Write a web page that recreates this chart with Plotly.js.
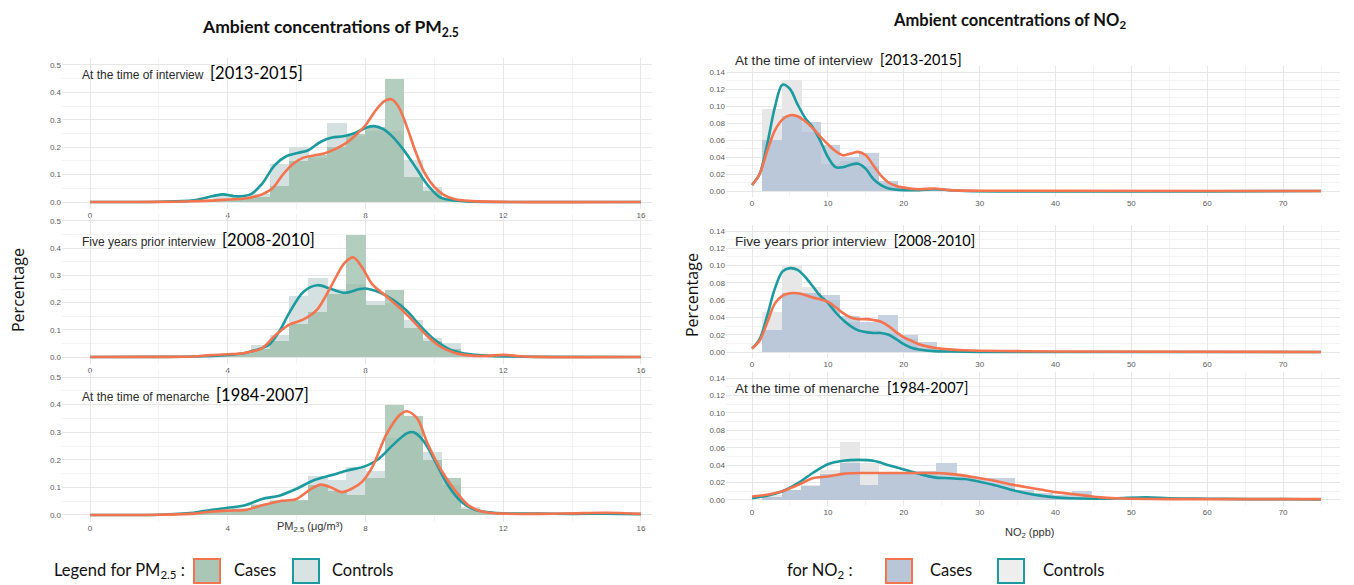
<!DOCTYPE html>
<html>
<head>
<meta charset="utf-8">
<script src="https://cdn.plot.ly/plotly-3.0.1.min.js"></script>
<style>html,body{margin:0;padding:0;background:#fff;}#chart{width:1354px;height:585px;}</style>
</head>
<body>
<div id="chart"></div>
<script>
// ---------------- DATA ----------------
// PM2.5 histogram bins (centres, µg/m3)
var pmBinCenters = [3.30, 3.86, 4.41, 4.96, 5.52, 6.07, 6.62, 7.18, 7.73, 8.28, 8.84, 9.39, 9.94, 10.50, 11.05, 11.60];
var pmBinWidth = 0.553;
var pmInterviewCasesHist    = [0, 0.01, 0.01, 0.02, 0.06, 0.15, 0.17, 0.20, 0.25, 0.275, 0.45, 0.09, 0.04, 0.01, 0, 0];
var pmInterviewControlsHist = [0, 0.03, 0.02, 0.03, 0.14, 0.20, 0.16, 0.29, 0.24, 0.26, 0.26, 0.155, 0.055, 0.01, 0, 0];
var pmFiveCasesHist         = [0, 0.005, 0.01, 0.03, 0.06, 0.12, 0.166, 0.23, 0.45, 0.19, 0.246, 0.105, 0.06, 0.03, 0.005, 0];
var pmFiveControlsHist      = [0, 0.005, 0.015, 0.045, 0.08, 0.224, 0.29, 0.25, 0.27, 0.205, 0.20, 0.135, 0.07, 0.05, 0.01, 0];
var pmMenarcheCasesHist     = [0.01, 0.015, 0.02, 0.035, 0.05, 0.055, 0.107, 0.087, 0.074, 0.135, 0.40, 0.36, 0.20, 0.134, 0.02, 0.008];
var pmMenarcheControlsHist  = [0.016, 0.02, 0.025, 0.04, 0.055, 0.05, 0.141, 0.126, 0.174, 0.16, 0.28, 0.30, 0.227, 0.11, 0.028, 0.01];

// PM2.5 density curves
var pmInterviewControlsX = [0, 2, 3, 3.58, 3.86, 4.19, 4.47, 4.69, 5.0, 5.36, 5.7, 6.03, 6.34, 6.7, 7.03, 7.36, 7.7, 8.03, 8.25, 8.53, 8.81, 9.15, 9.48, 9.81, 10.15, 10.48, 10.92, 12, 16];
var pmInterviewControlsY = [0, 0.001, 0.006, 0.022, 0.028, 0.021, 0.022, 0.03, 0.067, 0.134, 0.167, 0.179, 0.189, 0.22, 0.235, 0.24, 0.252, 0.272, 0.277, 0.265, 0.235, 0.183, 0.122, 0.061, 0.018, 0.007, 0.002, 0, 0];
var pmInterviewCasesX = [0, 2, 3, 3.5, 4, 4.5, 4.8, 5.0, 5.3, 5.6, 5.9, 6.2, 6.5, 6.8, 7.1, 7.4, 7.7, 8.0, 8.3, 8.55, 8.75, 8.95, 9.2, 9.45, 9.7, 10.0, 10.3, 10.6, 11, 12, 16];
var pmInterviewCasesY = [0, 0.0005, 0.003, 0.005, 0.009, 0.013, 0.02, 0.028, 0.05, 0.1, 0.14, 0.162, 0.17, 0.177, 0.192, 0.212, 0.242, 0.28, 0.335, 0.368, 0.375, 0.35, 0.275, 0.185, 0.11, 0.055, 0.024, 0.01, 0.004, 0.0005, 0];

var pmFiveControlsX = [0, 2, 3, 4, 4.5, 4.8, 5.2, 5.5, 5.8, 6.2, 6.6, 7.0, 7.4, 7.8, 8.0, 8.4, 8.8, 9.2, 9.6, 10.0, 10.4, 10.8, 11.2, 11.6, 12, 13, 16];
var pmFiveControlsY = [0, 0.0005, 0.002, 0.008, 0.015, 0.025, 0.045, 0.095, 0.165, 0.24, 0.264, 0.25, 0.236, 0.249, 0.252, 0.238, 0.21, 0.17, 0.113, 0.064, 0.031, 0.015, 0.008, 0.004, 0.002, 0.0005, 0];
var pmFiveCasesX = [0, 2, 3, 3.5, 4, 4.5, 5.0, 5.4, 5.8, 6.2, 6.6, 7.0, 7.4, 7.65, 7.9, 8.2, 8.6, 9.0, 9.4, 9.8, 10.2, 10.6, 11, 11.5, 12, 12.5, 13, 16];
var pmFiveCasesY = [0, 0.0005, 0.002, 0.007, 0.01, 0.015, 0.033, 0.082, 0.12, 0.138, 0.175, 0.26, 0.347, 0.366, 0.33, 0.267, 0.224, 0.18, 0.13, 0.076, 0.036, 0.015, 0.006, 0.004, 0.008, 0.003, 0.0005, 0];

var pmMenarcheControlsX = [0, 2, 3, 3.5, 4, 4.5, 5.0, 5.5, 6.0, 6.5, 7.0, 7.5, 8.0, 8.4, 8.8, 9.2, 9.4, 9.7, 10.0, 10.4, 10.8, 11.2, 11.6, 12, 13, 14, 15, 16];
var pmMenarcheControlsY = [0, 0.001, 0.008, 0.018, 0.026, 0.035, 0.058, 0.07, 0.095, 0.126, 0.144, 0.162, 0.177, 0.205, 0.254, 0.296, 0.3, 0.266, 0.2, 0.107, 0.046, 0.018, 0.01, 0.006, 0.005, 0.004, 0.005, 0.003];
var pmMenarcheCasesX = [0, 2, 3, 3.5, 4, 4.5, 5.0, 5.5, 6.0, 6.4, 6.7, 7.0, 7.3, 7.6, 7.9, 8.2, 8.6, 9.0, 9.2, 9.5, 9.8, 10.2, 10.6, 11.0, 11.4, 12, 13, 14, 15, 16];
var pmMenarcheCasesY = [0, 0.001, 0.005, 0.012, 0.016, 0.018, 0.035, 0.05, 0.058, 0.093, 0.11, 0.1, 0.083, 0.095, 0.12, 0.174, 0.29, 0.363, 0.376, 0.35, 0.26, 0.162, 0.089, 0.034, 0.012, 0.005, 0.004, 0.006, 0.008, 0.004];

// NO2 histogram bins (centres, ppb)
var no2BinCenters = [2.68, 5.23, 7.78, 10.33, 12.88, 15.43, 17.98, 20.53, 23.08, 25.63, 28.18, 30.73, 33.28, 35.83, 38.38, 40.93, 43.48, 46.03, 48.58, 51.13];
var no2BinWidth = 2.55;
var no2InterviewCasesHist    = [0.06, 0.088, 0.081, 0.054, 0.04, 0.045, 0.012, 0.003, 0.002, 0.002, 0, 0, 0, 0, 0, 0, 0, 0, 0, 0];
var no2InterviewControlsHist = [0.096, 0.131, 0.07, 0.032, 0.035, 0.03, 0.01, 0.002, 0.001, 0.002, 0, 0, 0, 0, 0, 0, 0, 0, 0, 0];
var no2FiveCasesHist         = [0.025, 0.068, 0.068, 0.066, 0.042, 0.035, 0.043, 0.02, 0.011, 0.002, 0, 0, 0, 0, 0, 0, 0, 0, 0, 0];
var no2FiveControlsHist      = [0.046, 0.10, 0.075, 0.06, 0.035, 0.025, 0.022, 0.015, 0.005, 0.001, 0, 0, 0, 0, 0, 0, 0, 0, 0, 0];
var no2MenarcheCasesHist     = [0.004, 0.012, 0.016, 0.03, 0.042, 0.017, 0.031, 0.031, 0.033, 0.042, 0.028, 0.025, 0.025, 0.012, 0.008, 0.006, 0.01, 0.003, 0.001, 0];
var no2MenarcheControlsHist  = [0.006, 0.012, 0.017, 0.034, 0.066, 0.042, 0.03, 0.03, 0.03, 0.025, 0.025, 0.02, 0.014, 0.008, 0.005, 0.003, 0.002, 0.001, 0.001, 0.002];

// NO2 density curves
var no2InterviewControlsX = [0, 1, 2, 3, 4, 5, 6, 7, 8, 9, 10, 11, 12, 13, 14, 15, 16, 17, 18, 20, 22, 24, 26, 28, 75];
var no2InterviewControlsY = [0.007, 0.02, 0.055, 0.098, 0.125, 0.12, 0.102, 0.086, 0.075, 0.059, 0.04, 0.028, 0.028, 0.031, 0.032, 0.026, 0.014, 0.007, 0.003, 0.001, 0.001, 0.002, 0.001, 0, 0];
var no2InterviewCasesX = [0, 1, 2, 3, 4, 5, 6, 7, 8, 9, 10, 11, 12, 13, 14, 15, 16, 17, 18, 19, 20, 22, 24, 26, 30, 75];
var no2InterviewCasesY = [0.007, 0.02, 0.047, 0.071, 0.084, 0.089, 0.088, 0.082, 0.074, 0.064, 0.055, 0.047, 0.042, 0.044, 0.046, 0.042, 0.03, 0.018, 0.01, 0.006, 0.004, 0.002, 0.003, 0.001, 0.0003, 0];

var no2FiveControlsX = [0, 1, 2, 3, 4, 5, 6, 7, 8, 9, 10, 11, 12, 13, 14, 15, 16, 17, 18, 19, 20, 21, 22, 24, 26, 30, 75];
var no2FiveControlsY = [0.004, 0.015, 0.042, 0.073, 0.093, 0.097, 0.095, 0.087, 0.076, 0.065, 0.057, 0.046, 0.037, 0.03, 0.025, 0.023, 0.022, 0.022, 0.02, 0.015, 0.009, 0.005, 0.003, 0.001, 0.0005, 0, 0];
var no2FiveCasesX = [0, 1, 2, 3, 4, 5, 6, 7, 8, 9, 10, 11, 12, 13, 14, 15, 16, 17, 18, 19, 20, 21, 22, 24, 26, 28, 30, 35, 40, 75];
var no2FiveCasesY = [0.004, 0.013, 0.034, 0.056, 0.065, 0.068, 0.068, 0.066, 0.063, 0.061, 0.058, 0.052, 0.045, 0.04, 0.038, 0.038, 0.037, 0.035, 0.03, 0.023, 0.017, 0.013, 0.009, 0.005, 0.003, 0.002, 0.0015, 0.001, 0.0005, 0];

var no2MenarcheControlsX = [0, 2, 4, 6, 8, 10, 12, 14, 16, 18, 20, 22, 24, 26, 28, 30, 32, 34, 36, 38, 40, 42, 45, 48, 52, 55, 60, 65, 70, 75];
var no2MenarcheControlsY = [0.002, 0.005, 0.01, 0.019, 0.031, 0.041, 0.045, 0.046, 0.045, 0.04, 0.035, 0.03, 0.026, 0.025, 0.024, 0.021, 0.017, 0.012, 0.008, 0.005, 0.003, 0.002, 0.0015, 0.002, 0.003, 0.002, 0.0015, 0.001, 0.001, 0.0005];
var no2MenarcheCasesX = [0, 2, 4, 6, 8, 10, 12, 14, 16, 18, 20, 22, 24, 26, 28, 30, 32, 34, 36, 38, 40, 42, 44, 46, 48, 50, 55, 60, 70, 75];
var no2MenarcheCasesY = [0.004, 0.006, 0.01, 0.017, 0.025, 0.027, 0.03, 0.031, 0.031, 0.031, 0.031, 0.031, 0.031, 0.03, 0.028, 0.025, 0.022, 0.018, 0.015, 0.012, 0.009, 0.007, 0.005, 0.003, 0.002, 0.0015, 0.001, 0.001, 0.001, 0.001];

var pmTicks = [0, 4, 8, 12, 16];
var no2Ticks = [0, 10, 20, 30, 40, 50, 60, 70];
var panelLabels = ["At the time of interview", "Five years prior interview", "At the time of menarche"];
var panelYears = ["[2013-2015]", "[2008-2010]", "[1984-2007]"];

// ---------------- STYLE / LAYOUT ----------------
var W = 1354, H = 585;
function px(x) { return x / W; }
function py(y) { return 1 - y / H; }

var ORANGE = '#f4744f', TEAL = '#1b9aa0';
var pmColors  = {caseOnly: '#b3cdbf', ctrlOnly: '#d4e1e0', both: '#a8c5b5'};
var no2Colors = {caseOnly: '#c7d2e1', ctrlOnly: '#e7e7e7', both: '#bac8da'};

var traces = [];
function addPanel(idx, centers, width, ctrlH, caseH, cx, cy, kx, ky, col) {
  var xa = 'x' + (idx === 1 ? '' : idx), ya = 'y' + (idx === 1 ? '' : idx);
  var both = caseH.map(function (v, i) { return Math.min(v, ctrlH[i]); });
  var w = width * 1.04;
  [[caseH, col.caseOnly], [ctrlH, col.ctrlOnly], [both, col.both]].forEach(function (p) {
    traces.push({type: 'bar', x: centers, y: p[0], width: w, xaxis: xa, yaxis: ya,
      marker: {color: p[1], line: {width: 0}}, hoverinfo: 'skip', showlegend: false});
  });
  traces.push({type: 'scatter', mode: 'lines', x: cx, y: cy, xaxis: xa, yaxis: ya,
    line: {color: TEAL, width: 2.6, shape: 'spline', smoothing: 0.9}, hoverinfo: 'skip', showlegend: false});
  traces.push({type: 'scatter', mode: 'lines', x: kx, y: ky, xaxis: xa, yaxis: ya,
    line: {color: ORANGE, width: 2.6, shape: 'spline', smoothing: 0.9}, hoverinfo: 'skip', showlegend: false});
}
addPanel(1, pmBinCenters, pmBinWidth, pmInterviewControlsHist, pmInterviewCasesHist, pmInterviewControlsX, pmInterviewControlsY, pmInterviewCasesX, pmInterviewCasesY, pmColors);
addPanel(2, pmBinCenters, pmBinWidth, pmFiveControlsHist, pmFiveCasesHist, pmFiveControlsX, pmFiveControlsY, pmFiveCasesX, pmFiveCasesY, pmColors);
addPanel(3, pmBinCenters, pmBinWidth, pmMenarcheControlsHist, pmMenarcheCasesHist, pmMenarcheControlsX, pmMenarcheControlsY, pmMenarcheCasesX, pmMenarcheCasesY, pmColors);
addPanel(4, no2BinCenters, no2BinWidth, no2InterviewControlsHist, no2InterviewCasesHist, no2InterviewControlsX, no2InterviewControlsY, no2InterviewCasesX, no2InterviewCasesY, no2Colors);
addPanel(5, no2BinCenters, no2BinWidth, no2FiveControlsHist, no2FiveCasesHist, no2FiveControlsX, no2FiveControlsY, no2FiveCasesX, no2FiveCasesY, no2Colors);
addPanel(6, no2BinCenters, no2BinWidth, no2MenarcheControlsHist, no2MenarcheCasesHist, no2MenarcheControlsX, no2MenarcheControlsY, no2MenarcheCasesX, no2MenarcheCasesY, no2Colors);

var tickFont = {family: 'Liberation Sans, Arial, sans-serif', size: 8, color: '#5a5a5a'};
function xAxis(domPx, range, ticks, dtickMinor, anchor) {
  return {domain: [px(domPx[0]), px(domPx[1])], range: range, anchor: anchor,
    tickmode: 'array', tickvals: ticks, ticktext: ticks.map(String),
    showgrid: true, gridcolor: '#e7e7e7', gridwidth: 1, zeroline: false, showline: false,
    ticks: '', tickfont: tickFont, fixedrange: true, layer: 'below traces',
    minor: {dtick: dtickMinor, showgrid: true, gridcolor: '#f0f0f0', gridwidth: 0.8}};
}
function yAxis(domPx, range, dtick, fmt, anchor) {
  return {domain: [py(domPx[1]), py(domPx[0])], range: range, anchor: anchor,
    tick0: 0, dtick: dtick, tickformat: fmt,
    showgrid: true, gridcolor: '#e7e7e7', gridwidth: 1, zeroline: false, showline: false,
    ticks: '', tickfont: tickFont, fixedrange: true, layer: 'below traces',
    minor: {dtick: dtick / 2, showgrid: true, gridcolor: '#f0f0f0', gridwidth: 0.8}};
}
var pmX = [62, 652], pmRange = [-0.813, 16.32];
var noX = [726, 1340], noRange = [-3.43, 77.5];

var layout = {
  width: W, height: H, margin: {l: 0, r: 0, t: 0, b: 0},
  paper_bgcolor: '#ffffff', plot_bgcolor: 'rgba(0,0,0,0)',
  barmode: 'overlay', bargap: 0, showlegend: false,
  font: {family: 'Liberation Sans, Arial, sans-serif'},
  xaxis:  xAxis(pmX, pmRange, pmTicks, 2, 'y'),
  xaxis2: xAxis(pmX, pmRange, pmTicks, 2, 'y2'),
  xaxis3: xAxis(pmX, pmRange, pmTicks, 2, 'y3'),
  xaxis4: xAxis(noX, noRange, no2Ticks, 5, 'y4'),
  xaxis5: xAxis(noX, noRange, no2Ticks, 5, 'y5'),
  xaxis6: xAxis(noX, noRange, no2Ticks, 5, 'y6'),
  yaxis:  yAxis([58, 209], [-0.0255, 0.5255], 0.1, '.1f', 'x'),
  yaxis2: yAxis([214, 364], [-0.0257, 0.5257], 0.1, '.1f', 'x2'),
  yaxis3: yAxis([370, 522], [-0.0254, 0.5254], 0.1, '.1f', 'x3'),
  yaxis4: yAxis([66, 197], [-0.00706, 0.14706], 0.02, '.2f', 'x4'),
  yaxis5: yAxis([225, 358], [-0.00694, 0.14694], 0.02, '.2f', 'x5'),
  yaxis6: yAxis([372, 506], [-0.0069, 0.1469], 0.02, '.2f', 'x6'),
  annotations: [],
  shapes: []
};

function ann(text, x, y, opts) {
  var a = {text: text, xref: 'paper', yref: 'paper', x: px(x), y: py(y), showarrow: false,
    xanchor: 'left', yanchor: 'middle', font: {family: 'Lato, sans-serif', size: 14, color: '#111'}};
  for (var k in opts) a[k] = opts[k];
  layout.annotations.push(a);
}
// Column titles
ann('<b>Ambient concentrations of PM<sub>2.5</sub></b>', 330, 28, {xanchor: 'center', font: {family: 'Lato, sans-serif', size: 17.5, color: '#111'}});
ann('<b>Ambient concentrations of NO<sub>2</sub></b>', 1009, 21, {xanchor: 'center', font: {family: 'Lato, sans-serif', size: 16.5, color: '#111'}});
// Y titles
ann('Percentage', 18, 290, {xanchor: 'center', textangle: -90, font: {family: 'Open Sans, sans-serif', size: 16, color: '#111'}});
ann('Percentage', 692, 295, {xanchor: 'center', textangle: -90, font: {family: 'Open Sans, sans-serif', size: 16, color: '#111'}});
// X titles
ann('PM<sub>2.5</sub> (μg/m³)', 310, 527, {xanchor: 'center', font: {family: 'Liberation Sans, Arial, sans-serif', size: 11, color: '#333'}});
ann('NO<sub>2</sub> (ppb)', 1030, 533, {xanchor: 'center', font: {family: 'Liberation Sans, Arial, sans-serif', size: 11, color: '#333'}});

// Panel labels
var leftLabelY = [73, 240, 395], rightLabelY = [60, 240, 387];
for (var i = 0; i < 3; i++) {
  ann(panelLabels[i] + '  <span style="font-family:Lato, sans-serif;font-size:16.5px;fill:#000">' + panelYears[i] + '</span>', 80, leftLabelY[i],
      {font: {family: 'Liberation Sans, Arial, sans-serif', size: 12, color: '#2a2a2a'}});
  ann(panelLabels[i] + '  <span style="font-family:Lato, sans-serif;font-size:14.5px;fill:#000">' + panelYears[i] + '</span>', 733, rightLabelY[i],
      {font: {family: 'Liberation Sans, Arial, sans-serif', size: 13.6, color: '#2a2a2a'}});
}

// Bottom legends
var legFont = {family: 'Lato, sans-serif', size: 16.5, color: '#111'};
ann('Legend for PM<sub>2.5</sub> :', 187, 570, {xanchor: 'right', font: legFont});
ann('Cases', 232, 570, {font: legFont});
ann('Controls', 330, 570, {font: legFont});
ann('for NO<sub>2</sub> :', 855, 570, {xanchor: 'right', font: legFont});
ann('Cases', 928, 570, {font: legFont});
ann('Controls', 1041, 570, {font: legFont});

function box(x0, x1, y0, y1, fill, border) {
  layout.shapes.push({type: 'rect', xref: 'paper', yref: 'paper', x0: px(x0), x1: px(x1), y0: py(y1), y1: py(y0),
    fillcolor: fill, line: {color: border, width: 2}});
}
box(194, 220, 559, 583, '#a9c6b6', ORANGE);
box(293, 319, 559, 583, '#d7e4e3', TEAL);
box(886, 912, 559, 583, '#b9c6d8', ORANGE);
box(998, 1024, 559, 583, '#eeeeee', TEAL);

Plotly.newPlot('chart', traces, layout, {staticPlot: true, displayModeBar: false});
</script>
</body>
</html>
